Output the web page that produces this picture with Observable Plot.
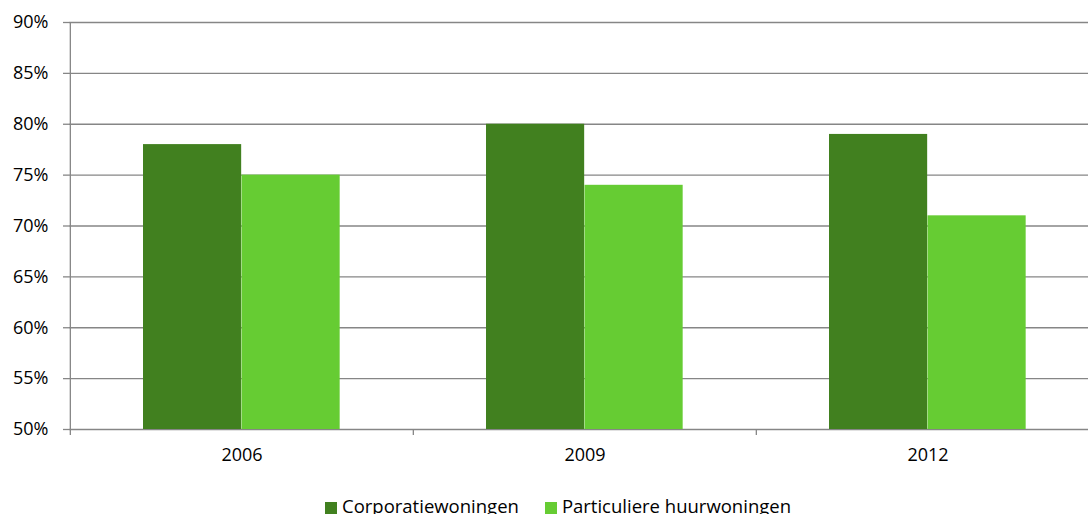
<!DOCTYPE html>
<html><head><meta charset="utf-8">
<script src="https://cdn.jsdelivr.net/npm/d3@7"></script>
<script src="https://cdn.jsdelivr.net/npm/@observablehq/plot@0.6"></script>
<style>
body{margin:0;background:#fff;font-family:"Open Sans",sans-serif;}
#wrap{position:relative;width:1088px;height:514px;overflow:hidden;}
#legend{position:absolute;left:0;top:493px;width:1088px;display:flex;justify-content:center;gap:26px;font-size:18.5px;color:#000;padding-left:28px;box-sizing:border-box}
#legend span.item{display:flex;align-items:center;}
#legend span.sw{display:inline-block;width:12px;height:12px;margin-right:5px;margin-top:4px}
</style>
</head><body><div id="wrap"><div id="chart"></div><div id="legend"></div></div>
<script>
const years = ["2006", "2009", "2012"];
const seriesNames = ["Corporatiewoningen", "Particuliere huurwoningen"];
const corporatie = [78, 80, 79];
const particulier = [75, 74, 71];
const yTicks = [50, 55, 60, 65, 70, 75, 80, 85, 90];
const colors = ["#41801F", "#66CC33"];

const dataCorp = years.map((y, i) => ({year: y, series: seriesNames[0], value: corporatie[i]}));
const dataPart = years.map((y, i) => ({year: y, series: seriesNames[1], value: particulier[i]}));

const step = (1099 - 69) / years.length;
const gray = "#868686";

const chart = Plot.plot({
  width: 1088, height: 470,
  marginLeft: 69, marginRight: 0, marginTop: 22, marginBottom: 41,
  style: {fontFamily: "'Open Sans', sans-serif", fontSize: "18px", color: "#000", background: "white", overflow: "visible"},
  x: {domain: years, range: [69, 1099], padding: 0, axis: null},
  y: {domain: [50, 90], axis: null},
  marks: [
    Plot.gridY(yTicks, {stroke: gray, strokeOpacity: 1, strokeWidth: 1.3}),
    Plot.barY(dataCorp, {x: "year", y1: 50, y2: "value", fill: colors[0], insetLeft: 73, insetRight: step - 171.5}),
    Plot.barY(dataPart, {x: "year", y1: 50, y2: "value", fill: colors[1], insetLeft: 171.5, insetRight: step - 270}),
    Plot.ruleX([years[0]], {x: d => d, dx: -step / 2, stroke: gray, strokeWidth: 1.3}),
    Plot.axisY(yTicks, {tickFormat: d => d + "%", tickSize: 6, tickPadding: 15, stroke: gray, strokeWidth: 1.3, fontSize: 18, label: null}),
    Plot.axisX(years, {tickSize: 6, tickFormat: () => "", dx: -step / 2, stroke: gray, strokeWidth: 1.3, label: null}),
    Plot.axisX(years, {tickSize: 0, tickPadding: 19, fontSize: 18, label: null})
  ]
});
document.getElementById("chart").appendChild(chart);

const legend = document.getElementById("legend");
seriesNames.forEach((name, i) => {
  const item = document.createElement("span");
  item.className = "item";
  const sw = document.createElement("span");
  sw.className = "sw";
  sw.style.background = colors[i];
  item.appendChild(sw);
  item.appendChild(document.createTextNode(name));
  legend.appendChild(item);
});
</script>
</body></html>
